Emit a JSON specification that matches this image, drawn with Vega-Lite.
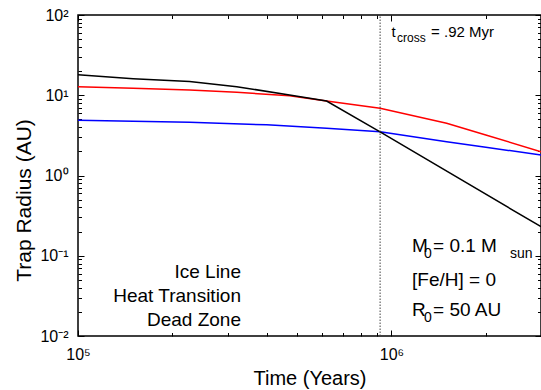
{
  "$schema": "https://vega.github.io/schema/vega-lite/v6.json",
  "width": 463,
  "height": 321,
  "autosize": "none",
  "padding": {"left": 78, "top": 15, "right": 0, "bottom": 54},
  "background": "white",
  "config": {
    "view": {"stroke": "#000", "strokeWidth": 1.5},
    "font": "Liberation Sans"
  },
  "datasets": {
    "curves": [
      {"t": 100000, "r": 4.88, "series": "Ice Line"},
      {"t": 150000, "r": 4.73, "series": "Ice Line"},
      {"t": 227000, "r": 4.6, "series": "Ice Line"},
      {"t": 400000, "r": 4.28, "series": "Ice Line"},
      {"t": 621000, "r": 3.87, "series": "Ice Line"},
      {"t": 920000, "r": 3.5, "series": "Ice Line"},
      {"t": 1500000, "r": 2.64, "series": "Ice Line"},
      {"t": 2000000, "r": 2.25, "series": "Ice Line"},
      {"t": 3000000, "r": 1.8, "series": "Ice Line"},
      {"t": 100000, "r": 12.8, "series": "Heat Transition"},
      {"t": 150000, "r": 12.2, "series": "Heat Transition"},
      {"t": 227000, "r": 11.6, "series": "Heat Transition"},
      {"t": 321000, "r": 10.9, "series": "Heat Transition"},
      {"t": 473000, "r": 9.86, "series": "Heat Transition"},
      {"t": 621000, "r": 8.47, "series": "Heat Transition"},
      {"t": 920000, "r": 6.87, "series": "Heat Transition"},
      {"t": 1500000, "r": 4.47, "series": "Heat Transition"},
      {"t": 2000000, "r": 3.2, "series": "Heat Transition"},
      {"t": 3000000, "r": 1.98, "series": "Heat Transition"},
      {"t": 100000, "r": 18.0, "series": "Dead Zone"},
      {"t": 150000, "r": 16.1, "series": "Dead Zone"},
      {"t": 227000, "r": 14.8, "series": "Dead Zone"},
      {"t": 321000, "r": 12.8, "series": "Dead Zone"},
      {"t": 473000, "r": 10.07, "series": "Dead Zone"},
      {"t": 621000, "r": 8.47, "series": "Dead Zone"},
      {"t": 920000, "r": 3.5, "series": "Dead Zone"},
      {"t": 3000000, "r": 0.23, "series": "Dead Zone"}
    ],
    "cross": [{"t": 920000, "lo": 0.01, "hi": 100}],
    "notes": [
      {"x": 1000000, "y": 53.2, "text": "t", "kind": "tc"},
      {"x": 1338000, "y": 53.2, "text": "= .92 Myr", "kind": "tc"},
      {"x": 1042000, "y": 53.2, "text": "cross", "kind": "tcsub"},
      {"x": 1163000, "y": 0.1098, "text": "M", "kind": "main"},
      {"x": 1357000, "y": 0.1098, "text": "= 0.1 M", "kind": "main"},
      {"x": 1163000, "y": 0.0414, "text": "[Fe/H] = 0", "kind": "main"},
      {"x": 1163000, "y": 0.0175, "text": "R", "kind": "main"},
      {"x": 1357000, "y": 0.0175, "text": "= 50 AU", "kind": "main"},
      {"x": 1270000, "y": 0.1098, "text": "0", "kind": "sub"},
      {"x": 2390000, "y": 0.1098, "text": "sun", "kind": "sub"},
      {"x": 1270000, "y": 0.0175, "text": "0", "kind": "sub"}
    ]
  },
  "layer": [
    {
      "data": {"name": "curves"},
      "mark": {"type": "line", "strokeWidth": 1.5, "clip": true},
      "encoding": {
        "x": {
          "field": "t", "type": "quantitative",
          "scale": {"type": "log", "domain": [100000, 3000000], "nice": false, "zero": false},
          "axis": {
            "orient": "bottom",
            "values": [100000, 200000, 300000, 400000, 500000, 600000, 700000, 800000, 900000, 1000000, 2000000, 3000000],
            "labelExpr": "datum.value == 100000 ? '10⁵' : datum.value == 1000000 ? '10⁶' : ''",
            "tickSize": {"condition": {"test": "datum.value == 100000 || datum.value == 1000000", "value": -6}, "value": -3.5},
            "tickColor": "#000", "tickWidth": 1,
            "domain": false, "grid": false,
            "labelFont": "Liberation Sans", "labelFontSize": 16, "labelColor": "#000",
            "labelFlush": false, "labelOverlap": false, "labelPadding": 16,
            "title": "Time (Years)", "titleFont": "Liberation Sans", "titleFontSize": 20,
            "titleFontWeight": "normal", "titleColor": "#000", "titleY": 48, "titleBaseline": "alphabetic"
          }
        },
        "y": {
          "field": "r", "type": "quantitative",
          "scale": {"type": "log", "domain": [0.01, 100], "nice": false, "zero": false},
          "axis": {
            "orient": "left",
            "values": [0.01, 0.02, 0.03, 0.04, 0.05, 0.06, 0.07, 0.08, 0.09, 0.1, 0.2, 0.3, 0.4, 0.5, 0.6, 0.7, 0.8, 0.9, 1, 2, 3, 4, 5, 6, 7, 8, 9, 10, 20, 30, 40, 50, 60, 70, 80, 90, 100],
            "labelExpr": "datum.value == 0.01 ? '10⁻²' : datum.value == 0.1 ? '10⁻¹' : datum.value == 1 ? '10⁰' : datum.value == 10 ? '10¹' : datum.value == 100 ? '10²' : ''",
            "tickSize": {"condition": {"test": "indexof([0.01, 0.1, 1, 10, 100], datum.value) >= 0", "value": -6}, "value": -3.5},
            "tickColor": "#000", "tickWidth": 1,
            "domain": false, "grid": false,
            "labelFont": "Liberation Sans", "labelFontSize": 16, "labelColor": "#000",
            "labelFlush": false, "labelOverlap": false, "labelPadding": 16,
            "title": "Trap Radius (AU)", "titleFont": "Liberation Sans", "titleFontSize": 21,
            "titleFontWeight": "normal", "titleColor": "#000", "titleX": -48, "titleY": 185, "titleBaseline": "alphabetic"
          }
        },
        "color": {
          "field": "series", "type": "nominal",
          "scale": {"domain": ["Ice Line", "Heat Transition", "Dead Zone"], "range": ["#0000ff", "#ff0000", "#000000"]},
          "legend": {
            "title": null, "orient": "none", "legendX": 172, "legendY": 246,
            "symbolType": "stroke", "symbolSize": 841, "symbolStrokeWidth": 1.5,
            "clipHeight": 22, "rowPadding": 2, "padding": 0,
            "labelAlign": "right", "labelOffset": -40, "labelBaseline": "middle",
            "labelFont": "Liberation Sans", "labelFontSize": 19, "labelColor": "#000", "labelLimit": 300
          }
        }
      }
    },
    {
      "data": {"name": "cross"},
      "mark": {"type": "rule", "strokeDash": [1.5, 1.5], "strokeWidth": 1, "color": "#444"},
      "encoding": {
        "x": {
          "field": "t", "type": "quantitative",
          "axis": {
            "orient": "top",
            "values": [100000, 200000, 300000, 400000, 500000, 600000, 700000, 800000, 900000, 1000000, 2000000, 3000000],
            "labels": false, "title": null, "domain": false, "grid": false,
            "tickSize": {"condition": {"test": "datum.value == 100000 || datum.value == 1000000", "value": -6}, "value": -3.5},
            "tickColor": "#000", "tickWidth": 1
          }
        },
        "y": {
          "field": "lo", "type": "quantitative",
          "axis": {
            "orient": "right",
            "values": [0.01, 0.02, 0.03, 0.04, 0.05, 0.06, 0.07, 0.08, 0.09, 0.1, 0.2, 0.3, 0.4, 0.5, 0.6, 0.7, 0.8, 0.9, 1, 2, 3, 4, 5, 6, 7, 8, 9, 10, 20, 30, 40, 50, 60, 70, 80, 90, 100],
            "labels": false, "title": null, "domain": false, "grid": false,
            "tickSize": {"condition": {"test": "indexof([0.01, 0.1, 1, 10, 100], datum.value) >= 0", "value": -6}, "value": -3.5},
            "tickColor": "#000", "tickWidth": 1
          }
        },
        "y2": {"field": "hi"}
      }
    },
    {
      "data": {"name": "notes"},
      "transform": [{"filter": "datum.kind == 'tc'"}],
      "mark": {"type": "text", "align": "left", "baseline": "alphabetic", "fontSize": 15, "font": "Liberation Sans", "color": "#000"},
      "encoding": {
        "x": {"field": "x", "type": "quantitative", "axis": null},
        "y": {"field": "y", "type": "quantitative", "axis": null},
        "text": {"field": "text"}
      }
    },
    {
      "data": {"name": "notes"},
      "transform": [{"filter": "datum.kind == 'tcsub'"}],
      "mark": {"type": "text", "align": "left", "baseline": "alphabetic", "fontSize": 12, "dy": 5, "font": "Liberation Sans", "color": "#000"},
      "encoding": {
        "x": {"field": "x", "type": "quantitative", "axis": null},
        "y": {"field": "y", "type": "quantitative", "axis": null},
        "text": {"field": "text"}
      }
    },
    {
      "data": {"name": "notes"},
      "transform": [{"filter": "datum.kind == 'main'"}],
      "mark": {"type": "text", "align": "left", "baseline": "alphabetic", "fontSize": 19, "font": "Liberation Sans", "color": "#000"},
      "encoding": {
        "x": {"field": "x", "type": "quantitative", "axis": null},
        "y": {"field": "y", "type": "quantitative", "axis": null},
        "text": {"field": "text"}
      }
    },
    {
      "data": {"name": "notes"},
      "transform": [{"filter": "datum.kind == 'sub'"}],
      "mark": {"type": "text", "align": "left", "baseline": "alphabetic", "fontSize": 14, "dy": 6, "font": "Liberation Sans", "color": "#000"},
      "encoding": {
        "x": {"field": "x", "type": "quantitative", "axis": null},
        "y": {"field": "y", "type": "quantitative", "axis": null},
        "text": {"field": "text"}
      }
    }
  ],
  "resolve": {"axis": {"x": "independent", "y": "independent"}}
}
